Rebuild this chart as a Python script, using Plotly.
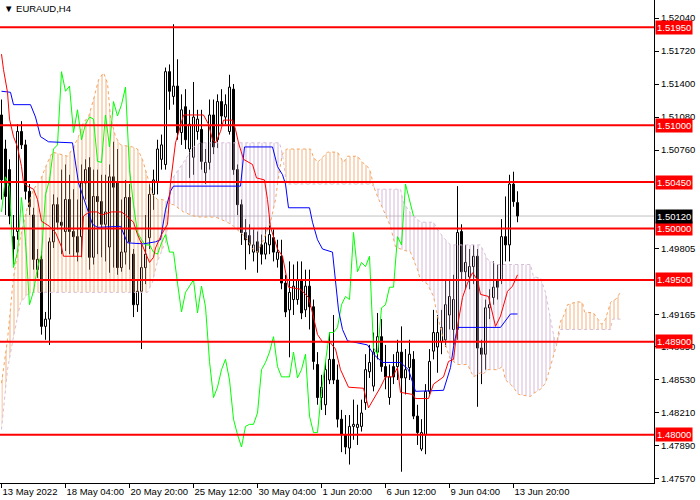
import plotly.graph_objects as go

# EURAUD H4, one entry per bar (bar 0 = 13 May 2022 12:00)
opens = [1.5110, 1.5077, 1.5057, 1.4992, 1.4997, 1.5094, 1.5081, 1.5036, 1.5013, 1.4960,
         1.4970, 1.4905, 1.4912, 1.4987, 1.5023, 1.5006, 1.4997, 1.5028, 1.4997, 1.4992,
         1.4992, 1.5044, 1.5059, 1.4972, 1.5031, 1.5026, 1.5004, 1.4982, 1.5050, 1.5044,
         1.4962, 1.4977, 1.5030, 1.4975, 1.4926, 1.4939, 1.4962, 1.4991, 1.5033, 1.5045,
         1.5067, 1.5062, 1.5152, 1.5128, 1.5138, 1.5093, 1.5118, 1.5077, 1.5069, 1.5094,
         1.5096, 1.5054, 1.5064, 1.5110, 1.5086, 1.5123, 1.5108, 1.5094, 1.5135, 1.5057,
         1.5023, 1.4996, 1.4993, 1.4977, 1.4987, 1.4984, 1.4975, 1.4984, 1.4991, 1.4970,
         1.4973, 1.4947, 1.4921, 1.4931, 1.4931, 1.4950, 1.4921, 1.4944, 1.4924, 1.4868,
         1.4836, 1.4829, 1.4853, 1.4873, 1.4853, 1.4815, 1.4800, 1.4787, 1.4808, 1.4807,
         1.4808, 1.4831, 1.4861, 1.4847, 1.4880, 1.4895, 1.4866, 1.4836, 1.4866, 1.4866,
         1.4880, 1.4855, 1.4865, 1.4873, 1.4818, 1.4786, 1.4800, 1.4842, 1.4881, 1.4885,
         1.4890, 1.4892, 1.4916, 1.4902, 1.4902, 1.4997, 1.4958, 1.4953, 1.4963, 1.4973,
         1.4884, 1.4878, 1.4923, 1.4933, 1.4950, 1.4950, 1.4992, 1.4984, 1.5043, 1.5025]
highs = [1.5125, 1.5086, 1.5067, 1.5013, 1.5101, 1.5104, 1.5086, 1.5043, 1.5020, 1.4980,
         1.4978, 1.4919, 1.4991, 1.5033, 1.5030, 1.5057, 1.5062, 1.5052, 1.5038, 1.5028,
         1.5062, 1.5067, 1.5069, 1.5057, 1.5057, 1.5052, 1.5052, 1.5062, 1.5084, 1.5077,
         1.5028, 1.5047, 1.5043, 1.4980, 1.4950, 1.4987, 1.5013, 1.5043, 1.5057, 1.5086,
         1.5091, 1.5156, 1.5159, 1.5198, 1.5164, 1.5130, 1.5135, 1.5115, 1.5142, 1.5115,
         1.5115, 1.5077, 1.5125, 1.5125, 1.5130, 1.5135, 1.5130, 1.5149, 1.5140, 1.5062,
         1.5028, 1.5009, 1.5004, 1.4999, 1.4997, 1.4994, 1.5001, 1.5009, 1.4999, 1.4989,
         1.4989, 1.4955, 1.4968, 1.4965, 1.4968, 1.4968, 1.4960, 1.4960, 1.4931, 1.4880,
         1.4858, 1.4871, 1.4899, 1.4916, 1.4868, 1.4824, 1.4819, 1.4819, 1.4834, 1.4829,
         1.4834, 1.4878, 1.4887, 1.4899, 1.4918, 1.4912, 1.4887, 1.4868, 1.4878, 1.4892,
         1.4905, 1.4883, 1.4892, 1.4881, 1.4829, 1.4815, 1.4849, 1.4883, 1.4921, 1.4916,
         1.4921, 1.4950, 1.4950, 1.4955, 1.5041, 1.5004, 1.4984, 1.4980, 1.4984, 1.4980,
         1.4892, 1.4931, 1.4941, 1.4968, 1.4965, 1.5009, 1.5031, 1.5052, 1.5055, 1.5036]
lows = [1.5028, 1.5013, 1.5004, 1.4965, 1.4989, 1.5077, 1.5028, 1.5013, 1.4960, 1.4952,
        1.4897, 1.4892, 1.4887, 1.4981, 1.4999, 1.4975, 1.4978, 1.4975, 1.4973, 1.4968,
        1.4972, 1.5028, 1.4960, 1.4965, 1.4975, 1.4972, 1.4968, 1.4957, 1.4962, 1.4955,
        1.4958, 1.4965, 1.4960, 1.4914, 1.4919, 1.4883, 1.4946, 1.4980, 1.5018, 1.5033,
        1.5057, 1.5057, 1.5115, 1.5120, 1.5086, 1.5081, 1.5077, 1.5049, 1.5052, 1.5086,
        1.5057, 1.5043, 1.5057, 1.5072, 1.5078, 1.5101, 1.5101, 1.5091, 1.5052, 1.5013,
        1.4984, 1.4960, 1.4975, 1.4968, 1.4957, 1.4965, 1.4970, 1.4975, 1.4968, 1.4962,
        1.4941, 1.4914, 1.4875, 1.4916, 1.4926, 1.4912, 1.4914, 1.4902, 1.4863, 1.4829,
        1.4824, 1.4819, 1.4849, 1.4849, 1.4807, 1.4783, 1.4781, 1.4771, 1.4795, 1.4790,
        1.4803, 1.4824, 1.4855, 1.4842, 1.4873, 1.4861, 1.4844, 1.4829, 1.4849, 1.4853,
        1.4764, 1.4839, 1.4853, 1.4815, 1.4790, 1.4784, 1.4781, 1.4839, 1.4873, 1.4860,
        1.4878, 1.4885, 1.4902, 1.4887, 1.4892, 1.4950, 1.4941, 1.4941, 1.4946, 1.4827,
        1.4849, 1.4863, 1.4912, 1.4926, 1.4931, 1.4946, 1.4968, 1.4968, 1.5021, 1.5006]
closes = [1.5047, 1.5031, 1.5012, 1.4980, 1.5094, 1.5081, 1.5036, 1.5021, 1.4970, 1.4970,
          1.4905, 1.4912, 1.4987, 1.5023, 1.5006, 1.5003, 1.5028, 1.4997, 1.4992, 1.4977,
          1.5044, 1.5057, 1.4972, 1.5031, 1.5026, 1.5004, 1.5016, 1.5050, 1.5040, 1.4962,
          1.4977, 1.5030, 1.4987, 1.4926, 1.4939, 1.4962, 1.4975, 1.5033, 1.5047, 1.5077,
          1.5081, 1.5152, 1.5133, 1.5138, 1.5093, 1.5115, 1.5086, 1.5101, 1.5108, 1.5106,
          1.5065, 1.5064, 1.5110, 1.5079, 1.5123, 1.5109, 1.5120, 1.5137, 1.5057, 1.5023,
          1.4996, 1.4989, 1.4984, 1.4984, 1.4977, 1.4975, 1.4986, 1.4994, 1.4977, 1.4977,
          1.4947, 1.4919, 1.4938, 1.4944, 1.4950, 1.4918, 1.4944, 1.4924, 1.4871, 1.4836,
          1.4846, 1.4863, 1.4873, 1.4853, 1.4815, 1.4800, 1.4788, 1.4808, 1.4810, 1.4810,
          1.4821, 1.4863, 1.4870, 1.4880, 1.4895, 1.4866, 1.4856, 1.4856, 1.4856, 1.4880,
          1.4855, 1.4863, 1.4878, 1.4818, 1.4802, 1.4802, 1.4842, 1.4871, 1.4899, 1.4899,
          1.4904, 1.4926, 1.4934, 1.4931, 1.4996, 1.4958, 1.4967, 1.4963, 1.4973, 1.4884,
          1.4878, 1.4923, 1.4926, 1.4943, 1.4943, 1.4992, 1.4984, 1.5043, 1.5026, 1.5012]

# Ichimoku lines (bar index, price)
tenkan_x = [0, 0.5, 1.5, 2, 3, 4, 5, 5.5, 6.5, 8, 9, 10, 12, 13.5, 15, 15.5, 20, 20.5, 22, 24,
            25, 27.5, 30, 31, 33, 34, 35.5, 37, 38, 38.5, 40, 41.5, 42.25, 43.5, 44.25, 45.5,
            50.5, 51.75, 52.75, 53.5, 54.75, 55.5, 57.75, 58.5, 59.25, 60.5, 62.75, 63.75,
            65.75, 66.5, 67.25, 69, 70.25, 71.75, 74.75, 76.75, 77.75, 79, 80.25, 82.25, 83.5,
            84.75, 86.75, 90.5, 91.75, 93, 94.75, 96, 97.75, 99, 99.75, 102.75, 103.5, 106.75,
            108, 110.5, 111.75, 113, 114, 115.25, 116.5, 117.75, 119, 119.75, 121.75, 123.5,
            124.75, 126.5, 127.75, 129]
tenkan = [1.5169, 1.5154, 1.5132, 1.5106, 1.5089, 1.5079, 1.5060, 1.5044, 1.5041, 1.5038,
          1.5028, 1.5007, 1.5002, 1.4996, 1.4982, 1.4973, 1.4973, 1.5012, 1.5016, 1.5016,
          1.5013, 1.5016, 1.5016, 1.5013, 1.5006, 1.4994, 1.4981, 1.4967, 1.4972, 1.4981,
          1.4994, 1.5004, 1.5044, 1.5083, 1.5093, 1.5110, 1.5110, 1.5101, 1.5086, 1.5083,
          1.5094, 1.5105, 1.5105, 1.5096, 1.5083, 1.5067, 1.5062, 1.5049, 1.5047, 1.5028,
          1.5001, 1.4980, 1.4973, 1.4943, 1.4941, 1.4933, 1.4918, 1.4897, 1.4890, 1.4889,
          1.4883, 1.4863, 1.4846, 1.4845, 1.4826, 1.4834, 1.4846, 1.4856, 1.4856, 1.4865,
          1.4841, 1.4839, 1.4835, 1.4835, 1.4849, 1.4856, 1.4871, 1.4873, 1.4905, 1.4933,
          1.4947, 1.4957, 1.4950, 1.4936, 1.4934, 1.4905, 1.4915, 1.4939, 1.4944, 1.4955]

kijun_x = [0, 2.25, 3, 7.25, 8.5, 9.75, 11.75, 17.75, 19.25, 21.5, 22.75, 24, 29.75, 31.5,
           35.5, 38.5, 39.75, 41, 42.25, 43, 59.75, 60.75, 67.75, 69, 70.25, 71, 71.75, 77,
           77.75, 79, 80.25, 82.75, 83.5, 84.25, 85.25, 86.5, 91.5, 93, 95.25, 99.75, 101.75,
           103.5, 110.5, 112.25, 113, 114, 124.75, 127.25, 129]
kijun = [1.5133, 1.5132, 1.5120, 1.5120, 1.5108, 1.5089, 1.5084, 1.5083, 1.5044, 1.5018,
         1.5004, 1.5001, 1.5002, 1.4986, 1.4985, 1.4987, 1.4989, 1.5018, 1.5036, 1.5041,
         1.5041, 1.5079, 1.5079, 1.5060, 1.5052, 1.5043, 1.5020, 1.5020, 1.5006, 1.4989,
         1.4980, 1.4977, 1.4950, 1.4921, 1.4902, 1.4891, 1.4887, 1.4878, 1.4870, 1.4870,
         1.4863, 1.4842, 1.4843, 1.4865, 1.4885, 1.4904, 1.4904, 1.4917, 1.4917]

cloud_x = [0, 1.5, 3, 4.75, 6.5, 8, 9.75, 11.5, 12.75, 16.5,
           17.75, 19.25, 20.5, 21.75, 23, 24.25, 25.5, 26.5, 27.25, 28.5,
           29.75, 32.75, 34, 35.25, 36.5, 37.75, 39, 40.25, 41.25, 41.75,
           43, 45.5, 48, 49.75, 53.5, 56.5, 58, 59.75, 61.5, 62.75,
           64, 65.5, 67.25, 68.5, 69.5, 70.25, 71.25, 77.25, 78, 79,
           80.25, 81.5, 84, 84.75, 85.5, 86.5, 89, 90.25, 91.5, 92.25,
           93, 94, 95.5, 97.25, 98.5, 99.75, 100.5, 102.25, 104, 104.75,
           106.5, 108, 109, 110.5, 112.25, 114, 116.5, 118, 119.75, 120.25,
           121.5, 122.25, 124, 125.25, 126, 127.75, 129.25, 132.25, 133, 134.75,
           136, 137.25, 138.25, 138.75, 139.75, 140.5, 141.5, 144, 145.25, 145.75,
           148, 149, 150, 151, 152.25, 152.75, 153.5, 154.75]
span_a = [1.4850, 1.4892, 1.4953, 1.4992, 1.5021, 1.5038, 1.5047, 1.5064, 1.5074, 1.5070,
          1.5077, 1.5089, 1.5103, 1.5108, 1.5125, 1.5144, 1.5151, 1.5141, 1.5108, 1.5089,
          1.5081, 1.5079, 1.5077, 1.5067, 1.5050, 1.5033, 1.5028, 1.5028, 1.5026, 1.5024,
          1.5023, 1.5016, 1.5012, 1.5011, 1.5011, 1.5006, 1.5002, 1.4996, 1.4989, 1.4980,
          1.4977, 1.4989, 1.5006, 1.5028, 1.5057, 1.5072, 1.5077, 1.5077, 1.5069, 1.5064,
          1.5069, 1.5074, 1.5074, 1.5069, 1.5064, 1.5070, 1.5070, 1.5064, 1.5060, 1.5055,
          1.5041, 1.5031, 1.5018, 1.5002, 1.4982, 1.4980, 1.4979, 1.4977, 1.4960, 1.4950,
          1.4946, 1.4934, 1.4915, 1.4892, 1.4873, 1.4868, 1.4868, 1.4856, 1.4860, 1.4858,
          1.4863, 1.4863, 1.4863, 1.4866, 1.4853, 1.4847, 1.4839, 1.4837, 1.4840, 1.4844,
          1.4850, 1.4866, 1.4882, 1.4887, 1.4910, 1.4915, 1.4926, 1.4929, 1.4928, 1.4919,
          1.4918, 1.4912, 1.4907, 1.4912, 1.4928, 1.4930, 1.4931, 1.4938]
span_b = [1.4805, 1.4863, 1.4895, 1.4928, 1.4936, 1.4938, 1.4938, 1.4938, 1.4938, 1.4938,
          1.4938, 1.4938, 1.4938, 1.4938, 1.4938, 1.4938, 1.4938, 1.4938, 1.4938, 1.4938,
          1.4938, 1.4938, 1.4938, 1.4938, 1.4938, 1.4948, 1.4968, 1.4980, 1.4989, 1.5024,
          1.5050, 1.5064, 1.5079, 1.5083, 1.5083, 1.5083, 1.5083, 1.5083, 1.5083, 1.5083,
          1.5083, 1.5083, 1.5083, 1.5083, 1.5083, 1.5072, 1.5043, 1.5043, 1.5043, 1.5043,
          1.5043, 1.5043, 1.5043, 1.5043, 1.5043, 1.5043, 1.5043, 1.5043, 1.5043, 1.5043,
          1.5041, 1.5038, 1.5038, 1.5038, 1.5038, 1.5038, 1.5025, 1.5015, 1.5009, 1.5006,
          1.5006, 1.5006, 1.4999, 1.4991, 1.4984, 1.4984, 1.4984, 1.4984, 1.4984, 1.4980,
          1.4970, 1.4968, 1.4965, 1.4965, 1.4965, 1.4965, 1.4965, 1.4965, 1.4953, 1.4952,
          1.4938, 1.4912, 1.4892, 1.4887, 1.4902, 1.4902, 1.4902, 1.4902, 1.4902, 1.4902,
          1.4902, 1.4902, 1.4902, 1.4902, 1.4902, 1.4912, 1.4912, 1.4912]
chikou_shift = 26

levels = [1.5195, 1.5100, 1.5045, 1.5000, 1.4950, 1.4890, 1.4800]
last_price = 1.5012

date_ticks = [0, 16, 32, 48, 64, 80, 96, 112, 128]
date_labels = ["13 May 2022", "18 May 04:00", "20 May 20:00", "25 May 12:00", "30 May 04:00",
               "1 Jun 20:00", "6 Jun 12:00", "9 Jun 04:00", "13 Jun 20:00"]
# ticks that are not hidden behind the price boxes
price_ticks = [1.52040, 1.51720, 1.51400, 1.51080, 1.50760, 1.49805,
               1.49165, 1.48850, 1.48530, 1.48210, 1.47890, 1.47570]

FONT = "Liberation Sans"
bars = list(range(len(closes)))

fig = go.Figure()

# candle bodies as bars (bar layer sits under all line traces)
body_base = [min(o, c) for o, c in zip(opens, closes)]
body_len = [max(abs(c - o), 0.00001) for o, c in zip(opens, closes)]
body_fill = ["white" if c >= o else "black" for o, c in zip(opens, closes)]
fig.add_trace(go.Bar(x=bars, base=body_base, y=body_len, width=0.5,
                     marker=dict(color=body_fill, line=dict(color="black", width=1)),
                     hoverinfo="skip"))

# wicks: above and below each body
wick_x, wick_y = [], []
for k in bars:
    top = max(opens[k], closes[k])
    bot = min(opens[k], closes[k])
    wick_x += [k, k, None, k, k, None]
    wick_y += [highs[k], top, None, bot, lows[k], None]
fig.add_trace(go.Scatter(x=wick_x, y=wick_y, mode="lines", line=dict(color="black", width=1),
                         hoverinfo="skip"))

# kumo hatch, split where the spans cross
cuts = [i for i in range(len(cloud_x)) if span_a[i] == span_b[i]]
bounds = [0] + cuts + [len(cloud_x) - 1]
for s, e in zip(bounds[:-1], bounds[1:]):
    xs = cloud_x[s:e + 1]
    a = span_a[s:e + 1]
    b = span_b[s:e + 1]
    colour = "#F09850" if sum(a) >= sum(b) else "#C9A2C9"
    fig.add_trace(go.Scatter(
        x=xs + xs[::-1], y=a + b[::-1], mode="none", fill="toself",
        fillcolor="rgba(0,0,0,0)",
        fillpattern=dict(shape="|", fgcolor=colour, size=4, solidity=0.38),
        hoverinfo="skip"))

fig.add_trace(go.Scatter(x=cloud_x, y=span_a, mode="lines",
                         line=dict(color="#F4A460", width=1, dash="dot")))
fig.add_trace(go.Scatter(x=cloud_x, y=span_b, mode="lines",
                         line=dict(color="#D8BFD8", width=1, dash="dot")))
fig.add_trace(go.Scatter(x=[k - chikou_shift for k in bars[chikou_shift:]],
                         y=closes[chikou_shift:], mode="lines",
                         line=dict(color="#00FF00", width=1)))
fig.add_trace(go.Scatter(x=kijun_x, y=kijun, mode="lines", line=dict(color="blue", width=1)))
fig.add_trace(go.Scatter(x=tenkan_x, y=tenkan, mode="lines", line=dict(color="red", width=1)))

shapes = [dict(type="line", xref="paper", x0=0, x1=1, yref="y", y0=last_price, y1=last_price,
               line=dict(color="#C0C0C0", width=1), layer="below")]
annotations = []
for lv in levels:
    shapes.append(dict(type="line", xref="paper", x0=0, x1=1, yref="y", y0=lv, y1=lv,
                       line=dict(color="red", width=2), layer="above"))
    annotations.append(dict(xref="paper", x=1, xanchor="left", xshift=1, yref="y", y=lv,
                            yanchor="middle", text=f"{lv:.5f}", showarrow=False,
                            bgcolor="red", borderpad=1,
                            font=dict(family=FONT, size=9.5, color="white")))
annotations.append(dict(xref="paper", x=1, xanchor="left", xshift=1, yref="y", y=last_price,
                        yanchor="middle", text=f"{last_price:.5f}", showarrow=False,
                        bgcolor="black", borderpad=1,
                        font=dict(family=FONT, size=9.5, color="white")))
annotations.append(dict(xref="paper", yref="paper", x=0, y=1, xanchor="left", yanchor="top",
                        xshift=2, yshift=-1, text="▼ EURAUD,H4", showarrow=False,
                        font=dict(family=FONT, size=9.5, color="black")))

fig.update_layout(
    width=700, height=500, showlegend=False, barmode="overlay",
    margin=dict(l=0, r=46, t=0, b=17),
    paper_bgcolor="white", plot_bgcolor="white",
    font=dict(family=FONT, size=9.5, color="black"),
    shapes=shapes, annotations=annotations,
    xaxis=dict(range=[-0.375, 163.125], showgrid=False,
               zeroline=False, showline=True, linecolor="black", linewidth=1,
               ticks="outside", ticklen=4, tickcolor="black", tickangle=0,
               tickvals=date_ticks, ticktext=date_labels,
               ticklabelposition="outside right"),
    yaxis=dict(range=[1.47531, 1.52215], side="right", showgrid=False, zeroline=False,
               showline=True, linecolor="black", linewidth=1,
               ticks="outside", ticklen=4, tickcolor="black",
               tickvals=price_ticks, ticktext=[f"{p:.5f}" for p in price_ticks]),
)

fig.write_html("out.html", config={"displayModeBar": False},
               post_script="document.body.style.margin='0';")
